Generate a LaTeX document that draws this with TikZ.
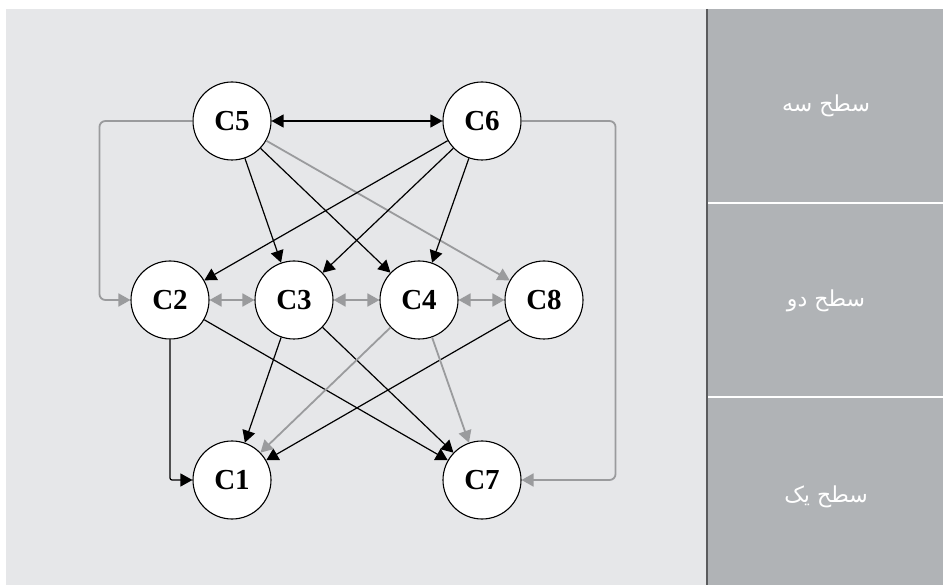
\documentclass[tikz,border=0pt]{standalone}
\usepackage{fontspec}
\setmainfont{Liberation Serif}
\newfontfamily\persianfont[Script=Arabic]{DejaVu Sans}
\TeXXeTstate=1
\usetikzlibrary{positioning, arrows.meta, calc}
\definecolor{panelbg}{HTML}{E6E7E9}
\definecolor{levelbg}{HTML}{B0B3B6}
\definecolor{linkgray}{HTML}{9A9B9D}
\definecolor{rulegray}{HTML}{5A5B5D}

\begin{document}
\begin{tikzpicture}[
        x=1pt, y=-1pt,
        >={Triangle[length=12pt, width=13pt]},
        concept/.style={circle, draw=black, line width=1.1pt, fill=white, minimum size=78pt, inner sep=0pt, font=\fontsize{29}{29}\selectfont\bfseries},
        strong/.style={->, draw=black, line width=1.2pt},
        weak/.style={->, draw=linkgray, line width=1.8pt},
        level/.style={text=white, font=\persianfont\fontsize{22}{24}\selectfont},
    ]

        % Background panels
        \useasboundingbox (0,0) rectangle (943,585);
        \fill[white] (0,0) rectangle (943,585);
        \fill[panelbg] (6,9) rectangle (707,585);
        \fill[levelbg] (708,9) rectangle (943,585);
        \draw[rulegray, line width=1.6pt] (707,9) -- (707,585);
        \foreach \y in {203.5, 397.5}
            \draw[white, line width=2pt] (708,\y) -- (943,\y);

        % Level names
        \node[level] (L3) at (826,106) {\beginR سطح سه\endR};
        \node[level] (L2) at (826,301) {\beginR سطح دو\endR};
        \node[level] (L1) at (826,497) {\beginR سطح یک\endR};

        % Draw the concept nodes, level by level
        \foreach \name / \x in {5/232, 6/482}
            \node[concept] (C\name) at (\x,121) {C\name};
        \foreach \name / \x in {2/170, 3/294, 4/419, 8/544}
            \node[concept] (C\name) at (\x,300) {C\name};
        \foreach \name / \x in {1/232, 7/482}
            \node[concept] (C\name) at (\x,480) {C\name};

        % Links out of the top level
        \draw[strong, <->] (C5) -- (C6);
        \foreach \dest in {3,4}
            \draw[strong] (C5) -- (C\dest);
        \draw[weak] (C5) -- (C8);
        \foreach \dest in {2,3,4}
            \draw[strong] (C6) -- (C\dest);
        \draw[weak, rounded corners=6pt] (C5.west) -- ++(-93,0) |- (C2.west);
        \draw[weak, rounded corners=6pt] (C6.east) -- ++(94,0) |- (C7.east);

        % Links inside the middle level
        \foreach \source / \dest in {2/3, 3/4, 4/8}
            \draw[weak, <->] (C\source) -- (C\dest);

        % Links down to the bottom level
        \draw[strong, rounded corners=2pt] (C2.south) |- (C1.west);
        \foreach \source in {3,8}
            \draw[strong] (C\source) -- (C1);
        \foreach \source in {2,3}
            \draw[strong] (C\source) -- (C7);
        \draw[weak] (C4) -- (C1);
        \draw[weak] (C4) -- (C7);
    \end{tikzpicture}
\end{document}
